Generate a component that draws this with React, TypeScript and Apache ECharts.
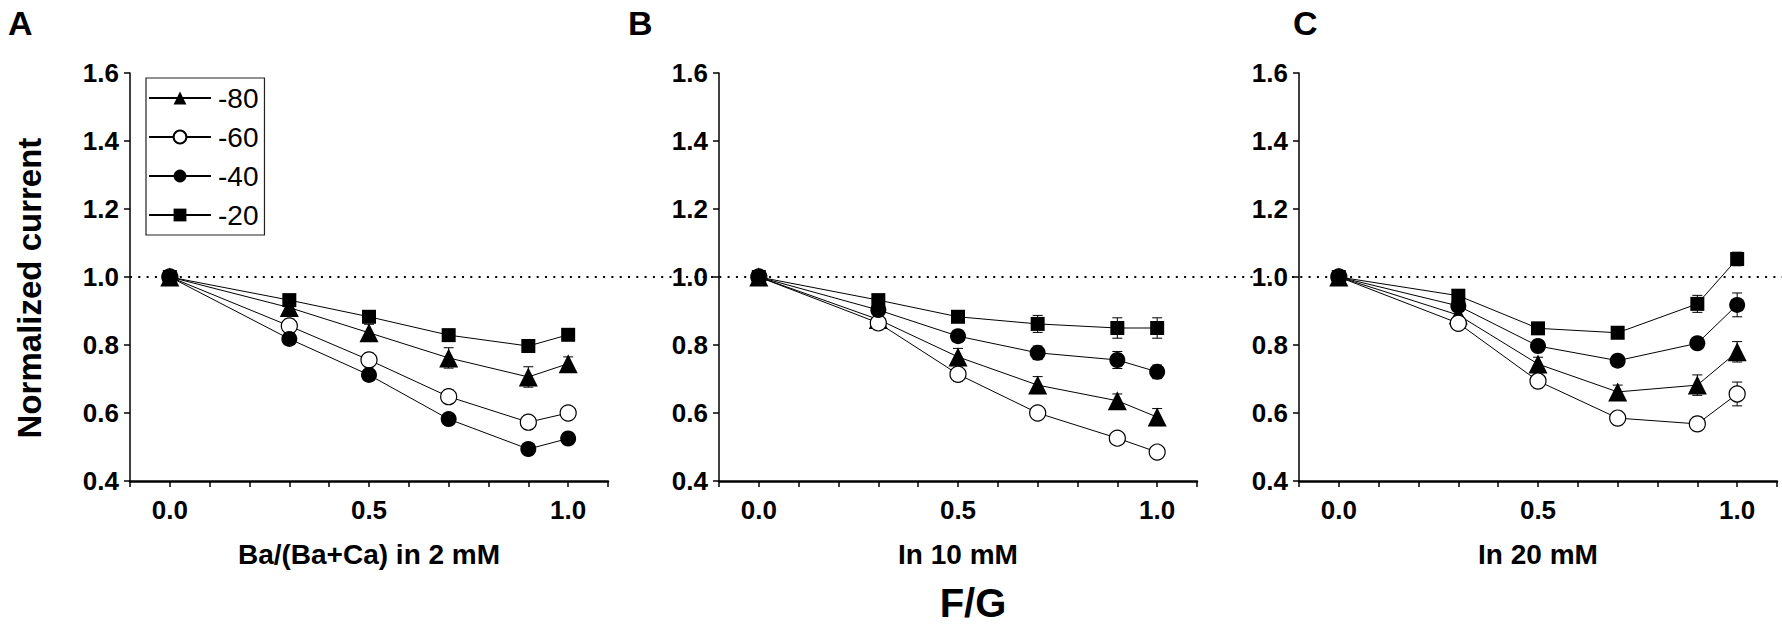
import { useEffect, useRef } from "react";
import * as echarts from "echarts";

// x positions (F/G fraction) shared by all panels
const fractions = [0, 0.3, 0.5, 0.7, 0.9, 1.0];
const holdingLevels = ["-80", "-60", "-40", "-20"];
const panelLetters = ["A", "B", "C"];
const panelTitles = ["Ba/(Ba+Ca) in 2 mM", "In 10 mM", "In 20 mM"];
const xTickValues = [0, 0.5, 1.0];
const xRange = [-0.1, 1.1];
const yRange = [0.4, 1.6];
const referenceLevel = 1.0;

// panel A: Ba/(Ba+Ca) in 2 mM
const a80 = [1.0, 0.91, 0.836, 0.762, 0.706, 0.745];
const a60 = [1.0, 0.856, 0.756, 0.648, 0.573, 0.6];
const a40 = [1.0, 0.818, 0.712, 0.582, 0.494, 0.525];
const a20 = [1.0, 0.932, 0.883, 0.829, 0.797, 0.83];
const a80Err = [0, 0.02, 0.025, 0.03, 0.03, 0.02];
const a60Err = [0, 0.02, 0.02, 0.02, 0.02, 0.015];
const a40Err = [0, 0.01, 0.01, 0.01, 0.01, 0.01];
const a20Err = [0, 0.01, 0.01, 0.01, 0.01, 0.01];

// panel B: in 10 mM
const b80 = [1.0, 0.875, 0.765, 0.682, 0.636, 0.588];
const b60 = [1.0, 0.865, 0.714, 0.6, 0.526, 0.485];
const b40 = [1.0, 0.903, 0.826, 0.777, 0.756, 0.721];
const b20 = [1.0, 0.932, 0.883, 0.862, 0.85, 0.85];
const b80Err = [0, 0.02, 0.025, 0.025, 0.02, 0.025];
const b60Err = [0, 0.02, 0.02, 0.015, 0.015, 0.015];
const b40Err = [0, 0.015, 0.015, 0.02, 0.025, 0.02];
const b20Err = [0, 0.015, 0.015, 0.025, 0.03, 0.03];

// panel C: in 20 mM
const c80 = [1.0, 0.888, 0.744, 0.662, 0.682, 0.78];
const c60 = [1.0, 0.864, 0.694, 0.585, 0.568, 0.656];
const c40 = [1.0, 0.915, 0.797, 0.754, 0.805, 0.918];
const c20 = [1.0, 0.945, 0.849, 0.836, 0.921, 1.053];
const c80Err = [0, 0.015, 0.02, 0.02, 0.03, 0.03];
const c60Err = [0, 0.015, 0.02, 0.02, 0.02, 0.035];
const c40Err = [0, 0.015, 0.015, 0.015, 0.015, 0.035];
const c20Err = [0, 0.015, 0.015, 0.015, 0.025, 0.02];

const panelValues = [
  [a80, a60, a40, a20],
  [b80, b60, b40, b20],
  [c80, c60, c40, c20],
];
const panelErrors = [
  [a80Err, a60Err, a40Err, a20Err],
  [b80Err, b60Err, b40Err, b20Err],
  [c80Err, c60Err, c40Err, c20Err],
];

const FONT = "'Liberation Sans', Arial, sans-serif";
const BLACK = "#000";

const markerStyles = [
  { symbol: "triangle", symbolSize: 19, itemStyle: { color: BLACK } },
  { symbol: "circle", symbolSize: 16, itemStyle: { color: "#fff", borderColor: BLACK, borderWidth: 1.2 } },
  { symbol: "circle", symbolSize: 16, itemStyle: { color: BLACK } },
  { symbol: "rect", symbolSize: 14, itemStyle: { color: BLACK } },
];

const isMajor = (v: number) => xTickValues.some((t) => Math.abs(t - v) < 1e-6);

const errorBar = (_params: any, api: any) => {
  const x = api.value(0);
  const y = api.value(1);
  const e = api.value(2);
  const top = api.coord([x, y + e]);
  const bot = api.coord([x, y - e]);
  const w = 5;
  const style = { stroke: BLACK, lineWidth: 1 };
  return {
    type: "group",
    children: [
      { type: "line", shape: { x1: top[0], y1: top[1], x2: bot[0], y2: bot[1] }, style },
      { type: "line", shape: { x1: top[0] - w, y1: top[1], x2: top[0] + w, y2: top[1] }, style },
      { type: "line", shape: { x1: bot[0] - w, y1: bot[1], x2: bot[0] + w, y2: bot[1] }, style },
    ],
  };
};

export default function App() {
  const chartRef = useRef<HTMLDivElement>(null);

  useEffect(() => {
    if (!chartRef.current) return;
    const chart = echarts.init(chartRef.current, null, { renderer: "svg" });

    const plotLefts = [130, 719, 1299];
    const grid: any[] = plotLefts.map((left) => ({ left, top: 73, width: 478, height: 408 }));
    grid.push({ left: 130, right: 0, top: 73, height: 408 });

    const xAxis: any[] = [];
    const yAxis: any[] = [];
    const series: any[] = [];

    plotLefts.forEach((_, p) => {
      // x axis: ticks every 0.1, labels at 0, 0.5, 1
      xAxis.push({
        gridIndex: p,
        type: "value",
        min: xRange[0],
        max: xRange[1],
        interval: 0.1,
        position: "bottom",
        name: panelTitles[p],
        nameLocation: "middle",
        nameGap: 59,
        nameTextStyle: { fontFamily: FONT, fontWeight: "bold", fontSize: 28, color: BLACK },
        axisLine: { show: true, onZero: false, lineStyle: { color: BLACK, width: 2.5 } },
        axisTick: { show: true, length: 6, lineStyle: { color: BLACK, width: 1.5 } },
        axisLabel: {
          formatter: (v: number) => (isMajor(v) ? v.toFixed(1) : ""),
          showMinLabel: true,
          showMaxLabel: true,
          hideOverlap: false,
          interval: 0,
          margin: 16,
          fontFamily: FONT,
          fontWeight: "bold",
          fontSize: 26,
          color: BLACK,
        },
        splitLine: { show: false },
      });
      yAxis.push({
        gridIndex: p,
        type: "value",
        min: yRange[0],
        max: yRange[1],
        interval: 0.2,
        position: "left",
        axisLine: { show: true, onZero: false, lineStyle: { color: BLACK, width: 1.5 } },
        axisTick: { show: true, length: 6, lineStyle: { color: BLACK, width: 1.5 } },
        axisLabel: {
          formatter: (v: number) => v.toFixed(1),
          margin: 11,
          fontFamily: FONT,
          fontWeight: "bold",
          fontSize: 26,
          color: BLACK,
        },
        splitLine: { show: false },
      });

      holdingLevels.forEach((name, s) => {
        const vals = panelValues[p][s];
        const errs = panelErrors[p][s];
        series.push({
          type: "custom",
          name: name + " sem",
          xAxisIndex: p,
          yAxisIndex: p,
          renderItem: errorBar,
          encode: { x: 0, y: 1 },
          z: 3,
          data: fractions.map((x, i) => [x, vals[i], errs[i]]).filter((d) => d[2] > 0),
        });
      });
      holdingLevels.forEach((name, s) => {
        const vals = panelValues[p][s];
        series.push({
          type: "line",
          name,
          xAxisIndex: p,
          yAxisIndex: p,
          z: 4,
          data: fractions.map((x, i) => [x, vals[i]]),
          lineStyle: { color: BLACK, width: 1 },
          ...markerStyles[s],
        });
      });
    });

    // hidden full-width axes for the dotted 1.0 reference line
    xAxis.push({ gridIndex: 3, type: "value", min: 0, max: 1, show: false });
    yAxis.push({ gridIndex: 3, type: "value", min: yRange[0], max: yRange[1], show: false });
    series.push({
      type: "line",
      name: "reference",
      xAxisIndex: 3,
      yAxisIndex: 3,
      z: 1,
      symbol: "none",
      silent: true,
      data: [
        [0, referenceLevel],
        [1, referenceLevel],
      ],
      lineStyle: { color: BLACK, width: 2, type: [2, 6.3] },
    });

    chart.setOption({
      animation: false,
      backgroundColor: "#fff",
      grid,
      xAxis,
      yAxis,
      series,
      legend: {
        data: holdingLevels,
        orient: "vertical",
        left: 146,
        top: 78,
        padding: [6, 6, 6, 2],
        itemGap: 11,
        itemWidth: 62,
        itemHeight: 16,
        borderColor: "#222",
        borderWidth: 1.2,
        selectedMode: false,
        textStyle: { fontFamily: FONT, fontSize: 28, color: BLACK, padding: [0, 0, 0, 2] },
      },
      graphic: [
        ...panelLetters.map((t, i) => ({
          type: "text",
          left: [8, 628, 1293][i],
          top: 6,
          style: { text: t, fontFamily: FONT, fontWeight: "bold", fontSize: 34, fill: BLACK },
        })),
        {
          type: "text",
          x: 29,
          y: 288,
          rotation: Math.PI / 2,
          style: {
            text: "Normalized current",
            fontFamily: FONT,
            fontWeight: "bold",
            fontSize: 33,
            fill: BLACK,
            align: "center",
            verticalAlign: "middle",
          },
        },
        {
          type: "text",
          x: 973,
          y: 603,
          style: {
            text: "F/G",
            fontFamily: FONT,
            fontWeight: "bold",
            fontSize: 40,
            fill: BLACK,
            align: "center",
            verticalAlign: "middle",
          },
        },
      ],
    });

    return () => {
      chart.dispose();
    };
  }, []);

  return (
    <div
      ref={chartRef}
      style={{ position: "fixed", left: 0, top: 0, width: 1782, height: 626, background: "#fff" }}
    />
  );
}
